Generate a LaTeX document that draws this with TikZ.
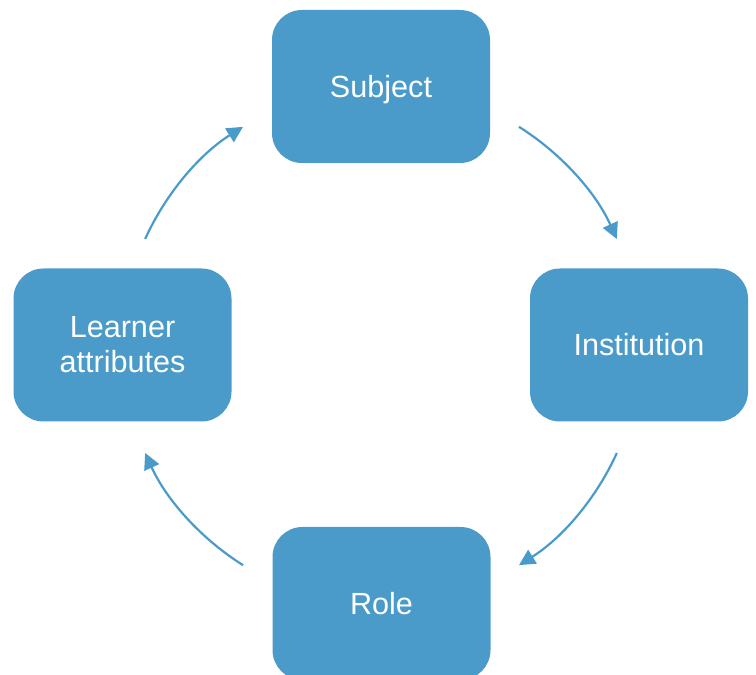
\documentclass[tikz,border=0pt]{standalone}
\usepackage{fontspec}
\setmainfont{Liberation Sans}
\usetikzlibrary{arrows.meta}
\definecolor{boxblue}{HTML}{4A9BC9}
\tikzset{
  stage/.style={draw=none, fill=boxblue, text=white, rounded corners=30pt,
    minimum width=218pt, minimum height=153pt, align=center,
    font=\fontsize{30.6}{35}\selectfont},
  cyclearrow/.style={draw=boxblue, line width=2.2pt,
    -{Triangle[length=16pt,width=16pt]}}
}
\begin{document}
\begin{tikzpicture}[x=1pt,y=1pt]
  \useasboundingbox (0,0) rectangle (756,675);
  \clip (0,0) rectangle (756,675);
  \coordinate (o) at (381,329);
  \node[stage, text depth=0pt] (subject) at (381,588.5) {Subject};
  \node[stage] (institution) at (639,330) {Institution};
  \node[stage] (role) at (381.5,71.5) {Role};
  \node[stage] (learner) at (122.5,330) {Learner\\attributes};
  % arcs of one circle around the centre, running clockwise
  \draw[cyclearrow] (o) ++(57.8:259) arc[start angle=57.8, end angle=24.4, radius=259];
  \draw[cyclearrow] (o) ++(-24.4:259) arc[start angle=-24.4, end angle=-57.8, radius=259];
  \draw[cyclearrow] (o) ++(-122.2:259) arc[start angle=-122.2, end angle=-155.6, radius=259];
  \draw[cyclearrow] (o) ++(155.6:259) arc[start angle=155.6, end angle=122.2, radius=259];
\end{tikzpicture}
\end{document}
